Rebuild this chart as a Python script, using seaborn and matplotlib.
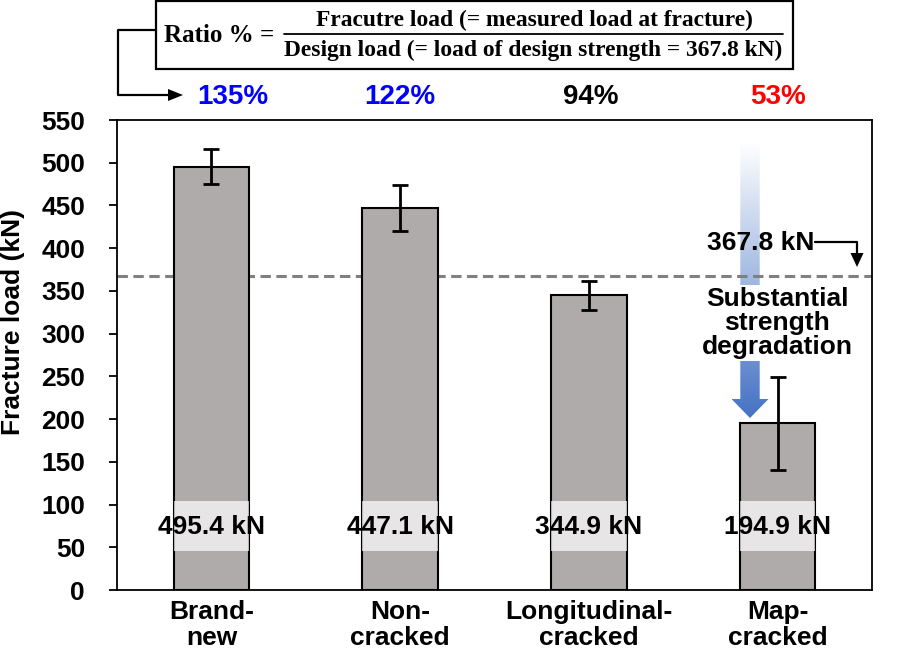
import numpy as np
import pandas as pd
import matplotlib
matplotlib.use("Agg")
import matplotlib.pyplot as plt
import seaborn as sns
from matplotlib.patches import Polygon, Rectangle
from matplotlib.lines import Line2D
from matplotlib.colors import LinearSegmentedColormap

# ---------------- data ----------------
categories = ["Brand-\nnew", "Non-\ncracked", "Longitudinal-\ncracked", "Map-\ncracked"]
fracture_load = [495.4, 447.1, 344.9, 194.9]
load_error = [20.5, 26.5, 17.0, 54.0]
load_labels = ["495.4 kN", "447.1 kN", "344.9 kN", "194.9 kN"]
ratio_pct = [135, 122, 94, 53]
ratio_colors = ["#0000FF", "#0000FF", "#000000", "#FF0000"]
design_load = 367.8
yticks = list(range(0, 551, 50))

# ---------------- figure ----------------
W, H = 898, 649
sns.set_theme(style="white")
plt.rcParams["font.family"] = ["Liberation Sans", "DejaVu Sans"]
plt.rcParams["font.weight"] = "bold"
plt.rcParams["text.color"] = "black"
plt.rcParams["axes.labelcolor"] = "black"

fig = plt.figure(figsize=(W / 100, H / 100), dpi=100)
L, R, B, T = 117, 872, 590, 120
ax = fig.add_axes([L / W, 1 - B / H, (R - L) / W, (B - T) / H])
YMAX = 550


def dx(px):
    return (px - L) / (R - L) * 4 - 0.5


def dy(py):
    return (B - py) / (B - T) * YMAX


def fx(px):
    return px / W


def fy(py):
    return 1 - py / H


df = pd.DataFrame({"cat": categories, "load": fracture_load})
sns.barplot(data=df, x="cat", y="load", color="#AFABAB", saturation=1,
            edgecolor="black", linewidth=1.5, width=0.4, ax=ax, zorder=3)
ax.errorbar(range(len(categories)), fracture_load, yerr=load_error, fmt="none",
            ecolor="black", elinewidth=2, capsize=5.5, capthick=2, zorder=5)

# design-load dashed line
ax.axhline(design_load, color="#808080", lw=2.2, dashes=(3.4, 1.8), zorder=2)

# gradient arrow
xc = dx(750)
sh = dx(750 + 9.7) - xc
hh = dx(750 + 18.5) - xc
ytop, ybase, ytip = dy(142), dy(399), dy(418)
verts = [(xc - sh, ytop), (xc + sh, ytop), (xc + sh, ybase), (xc + hh, ybase),
         (xc, ytip), (xc - hh, ybase), (xc - sh, ybase)]
poly = Polygon(verts, closed=True, facecolor="none", edgecolor="none")
ax.add_patch(poly)
grad = np.linspace(0, 1, 256).reshape(-1, 1)
cmap = LinearSegmentedColormap.from_list("g", ["#FFFFFF", "#4472C4"])
im = ax.imshow(grad, extent=[xc - hh, xc + hh, ytip, ytop], origin="upper",
               aspect="auto", cmap=cmap, zorder=1)
im.set_clip_path(poly)

# annotation texts
ax.text(dx(777), dy(323), "Substantial\nstrength\ndegradation", ha="center", va="center",
        fontsize=19, fontweight="bold", linespacing=1.0, zorder=6, color="black",
        bbox=dict(facecolor="white", edgecolor="none", pad=1.5))
ax.text(dx(761), dy(243), "367.8 kN", ha="center", va="center", fontsize=19,
        fontweight="bold", zorder=6, color="black")
ax.add_line(Line2D([dx(815), dx(857), dx(857)], [dy(242), dy(242), dy(255)],
                   color="black", lw=1.6, zorder=6, clip_on=False))
ax.add_patch(Polygon([(dx(850.5), dy(253)), (dx(863.5), dy(253)), (dx(857), dy(267))],
                     closed=True, facecolor="black", edgecolor="none", zorder=6))

# value labels with semi-transparent boxes
for i, lab in enumerate(load_labels):
    ax.add_patch(Rectangle((i - 0.2, dy(551)), 0.4, dy(501) - dy(551),
                           facecolor="white", alpha=0.7, edgecolor="none", zorder=4))
    ax.text(i, dy(527), lab, ha="center", va="center", fontsize=19,
            fontweight="bold", zorder=6, color="black")

# ratio labels above
ratio_off = [dx(232) - dx(211), 0.0, dx(592) - dx(590), 0.0]
for i, (v, c) in enumerate(zip(ratio_pct, ratio_colors)):
    ax.text(i + ratio_off[i], dy(97), f"{v}%", ha="center", va="center", color=c,
            fontsize=20, fontweight="bold", clip_on=False)

# axes styling
ax.set_xlim(-0.5, 3.5)
ax.set_ylim(0, YMAX)
ax.set_yticks(yticks)
ax.set_xlabel("")
ax.set_ylabel("Fracture load (kN)", fontsize=19, fontweight="bold", color="black")
ax.yaxis.label.set_verticalalignment("center")
ax.yaxis.set_label_coords((13 - L) / (R - L), (B - 322) / (B - T))
ax.tick_params(axis="y", direction="out", length=6, width=1.3, pad=17,
               labelsize=19, left=True, colors="black")
ax.tick_params(axis="x", length=0, pad=7, labelsize=19, colors="black")
for lab in ax.get_xticklabels() + ax.get_yticklabels():
    lab.set_fontweight("bold")
for lab in ax.get_xticklabels():
    lab.set_linespacing(1.12)
for s in ax.spines.values():
    s.set_visible(True)
    s.set_color("black")
    s.set_linewidth(1.3)

# ---------------- formula box (figure coords) ----------------
fig.add_artist(Rectangle((fx(156), fy(69)), fx(793) - fx(156), fy(1) - fy(69),
                         transform=fig.transFigure, facecolor="white",
                         edgecolor="black", lw=1.6))
serif = ["Liberation Serif", "DejaVu Serif"]
t_ratio = fig.text(fx(219), fy(35), "Ratio % =", ha="center", va="center",
                   fontsize=20, fontweight="bold", family=serif, color="black")
t_num = fig.text(fx(534), fy(20), "Fracutre load (= measured load at fracture)",
                 ha="center", va="center", fontsize=15, fontweight="bold", family=serif,
                 color="black")
t_den = fig.text(fx(533.5), fy(50), "Design load (= load of design strength = 367.8 kN)",
                 ha="center", va="center", fontsize=15, fontweight="bold", family=serif,
                 color="black")
fig.add_artist(Line2D([fx(284), fx(783)], [fy(34), fy(34)], transform=fig.transFigure,
                      color="black", lw=1.3))

# fit formula font sizes to measured widths
fig.canvas.draw()
r = fig.canvas.get_renderer()
for t, target in [(t_ratio, 110), (t_num, 436), (t_den, 499)]:
    for _ in range(2):
        w = t.get_window_extent(r).width
        t.set_fontsize(t.get_fontsize() * target / w)
        fig.canvas.draw()

# elbow arrow from box
fig.add_artist(Line2D([fx(156), fx(118), fx(118), fx(170)], [fy(30), fy(30), fy(95), fy(95)],
                      transform=fig.transFigure, color="black", lw=1.6))
fig.add_artist(Polygon([(fx(168), fy(89)), (fx(168), fy(101)), (fx(183), fy(95))],
                       closed=True, transform=fig.transFigure, facecolor="black",
                       edgecolor="none"))

fig.savefig("out.png", dpi=100)
